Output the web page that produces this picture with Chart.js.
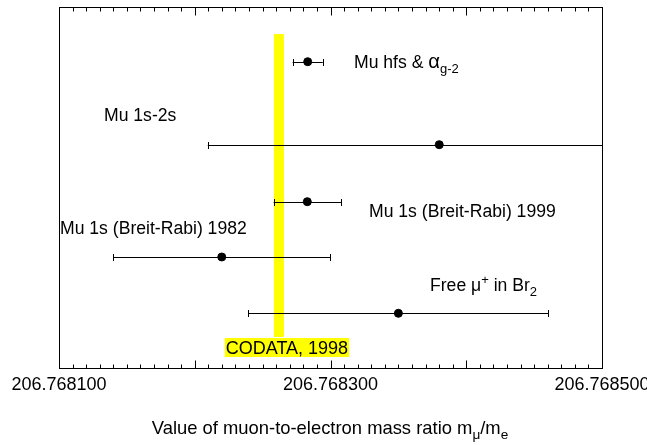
<!DOCTYPE html>
<html><head><meta charset="utf-8">
<script src="https://cdn.jsdelivr.net/npm/chart.js@4/dist/chart.umd.min.js"></script>
<style>html,body{margin:0;padding:0;background:#fff;}#wrap{width:647px;height:445px;position:relative;}</style>
</head><body><div id="wrap"><canvas id="c"></canvas></div>
<script>
// ---- data ----
const measurementNames = ["Mu hfs & α g-2", "Mu 1s-2s", "Mu 1s (Breit-Rabi) 1999", "Mu 1s (Breit-Rabi) 1982", "Free μ+ in Br2"];
const measurementValues = [206.7682832, 206.7683801, 206.7682829, 206.7682199, 206.7683500];
const measurementErrors = [0.0000111, 0.0001705, 0.0000248, 0.0000800, 0.0001105];
const measurementRows = [84.85, 61.86, 46.07, 30.75, 15.15];
const codataValue = 206.7682620;
const codataError = 0.0000037;
const codataLabel = "CODATA, 1998";
const tickLabelValues = [206.768100, 206.768300, 206.768500];
const axisMin = 206.768100, axisMax = 206.768500;
const minorTickCount = 40;   // minor ticks across the axis
const majorTickEvery = 10;   // every 10th tick is long

const FONT = "Liberation Sans, Arial, sans-serif";
const FS = 18;

// rich text: segments {t, sub, sup, scale}
function drawRich(ctx, segs, x, y, align, fs) {
  fs = fs || FS;
  const sizeOf = s => (s.sub || s.sup) ? fs * 0.74 : fs * (s.scale || 1);
  const widths = segs.map(s => { ctx.font = sizeOf(s) + "px " + FONT; return ctx.measureText(s.t).width; });
  const total = widths.reduce((a, b) => a + b, 0);
  let cx = align === "center" ? x - total / 2 : x;
  ctx.textBaseline = "alphabetic";
  ctx.textAlign = "left";
  segs.forEach((s, i) => {
    ctx.font = sizeOf(s) + "px " + FONT;
    let dy = 0;
    if (s.sub) dy = 5;
    if (s.sup) dy = -7;
    ctx.fillText(s.t, cx, y + dy);
    cx += widths[i];
  });
  return total;
}

const labelSegments = [
  [{t: "Mu hfs & "}, {t: "α", scale: 1.15}, {t: "g-2", sub: true}],
  [{t: "Mu 1s-2s"}],
  [{t: "Mu 1s (Breit-Rabi) 1999"}],
  [{t: "Mu 1s (Breit-Rabi) 1982"}],
  [{t: "Free μ"}, {t: "+", sup: true}, {t: " in Br"}, {t: "2", sub: true}]
];
// label anchor (left x, baseline y) in pixels
const labelPos = [[354, 68], [104, 121], [369, 217], [60, 234], [430, 291]];

const errPlugin = {
  id: "errbars",
  beforeDatasetsDraw(chart) {
    const {ctx, chartArea: a, scales: {x, y}} = chart;
    ctx.save();
    // CODATA band
    ctx.fillStyle = "#ffff00";
    const bx0 = x.getPixelForValue(codataValue - codataError);
    const bx1 = x.getPixelForValue(codataValue + codataError);
    const by0 = y.getPixelForValue(92.5), by1 = y.getPixelForValue(8.6);
    ctx.fillRect(bx0, by0, bx1 - bx0, by1 - by0);
    // error bars
    ctx.beginPath();
    ctx.rect(a.left, a.top, a.right - a.left, a.bottom - a.top);
    ctx.clip();
    ctx.strokeStyle = "#000";
    ctx.lineWidth = 1;
    measurementValues.forEach((v, i) => {
      const e = measurementErrors[i];
      const py = Math.round(y.getPixelForValue(measurementRows[i])) + 0.5;
      const x0 = x.getPixelForValue(v - e), x1 = x.getPixelForValue(v + e);
      ctx.beginPath();
      ctx.moveTo(x0, py); ctx.lineTo(x1, py);
      const c0 = Math.round(x0) + 0.5, c1 = Math.round(x1) + 0.5;
      ctx.moveTo(c0, py - 3.5); ctx.lineTo(c0, py + 3.5);
      ctx.moveTo(c1, py - 3.5); ctx.lineTo(c1, py + 3.5);
      ctx.stroke();
    });
    ctx.restore();
  },
  afterDatasetsDraw(chart) {
    const {ctx, chartArea: a, scales: {x, y}} = chart;
    ctx.save();
    ctx.strokeStyle = "#000";
    ctx.lineWidth = 1;
    const L = Math.round(a.left) + 0.5, R = Math.round(a.right) + 0.5;
    const T = Math.round(a.top) + 0.5, B = Math.round(a.bottom) + 0.5;
    ctx.strokeRect(L, T, R - L, B - T);
    // inward ticks top & bottom
    ctx.beginPath();
    for (let i = 0; i <= minorTickCount; i++) {
      const v = axisMin + (axisMax - axisMin) * i / minorTickCount;
      const px = Math.round(x.getPixelForValue(v)) + 0.5;
      const len = (i % majorTickEvery === 0) ? 8 : 4;
      ctx.moveTo(px, B); ctx.lineTo(px, B - len);
      ctx.moveTo(px, T); ctx.lineTo(px, T + len);
    }
    ctx.stroke();
    // labels
    ctx.fillStyle = "#000";
    labelSegments.forEach((segs, i) => drawRich(ctx, segs, labelPos[i][0], labelPos[i][1], "left", 17.6));
    // CODATA label with yellow background
    ctx.font = FS + "px " + FONT;
    const w = ctx.measureText(codataLabel).width;
    const cx = x.getPixelForValue(codataValue) + 8;
    ctx.fillStyle = "#ffff00";
    ctx.fillRect(cx - w / 2 - 1, 338, w + 2, 19);
    ctx.fillStyle = "#000";
    ctx.textAlign = "center";
    ctx.textBaseline = "alphabetic";
    ctx.fillText(codataLabel, cx, 354);
    // axis title
    drawRich(ctx, [{t: "Value of muon-to-electron mass ratio m"}, {t: "μ", sub: true}, {t: "/m"}, {t: "e", sub: true}], 330, 434, "center", 18.4);
    ctx.restore();
  }
};

new Chart(document.getElementById("c"), {
  type: "scatter",
  data: {
    datasets: [{
      label: "measurements",
      data: measurementValues.map((v, i) => ({x: v, y: measurementRows[i]})),
      backgroundColor: "#000",
      borderColor: "#000",
      pointRadius: 4,
      pointHoverRadius: 4
    }]
  },
  options: {
    responsive: true,
    maintainAspectRatio: false,
    animation: false,
    events: [],
    layout: {padding: {left: 59, right: 45, top: 7, bottom: 37}},
    plugins: {legend: {display: false}, tooltip: {enabled: false}},
    scales: {
      x: {
        type: "linear",
        min: axisMin, max: axisMax,
        grid: {display: false, drawTicks: false},
        border: {display: false},
        afterBuildTicks(scale) { scale.ticks = tickLabelValues.map(v => ({value: v})); },
        afterFit(scale) { scale.height = 40; scale.paddingLeft = 0; scale.paddingRight = 0; },
        ticks: {
          autoSkip: false, maxRotation: 0, padding: 6,
          color: "#000", font: {family: FONT, size: FS},
          callback: v => Number(v).toFixed(6)
        }
      },
      y: {type: "linear", min: 0, max: 100, display: false}
    }
  },
  plugins: [errPlugin]
});
</script>
</body></html>
